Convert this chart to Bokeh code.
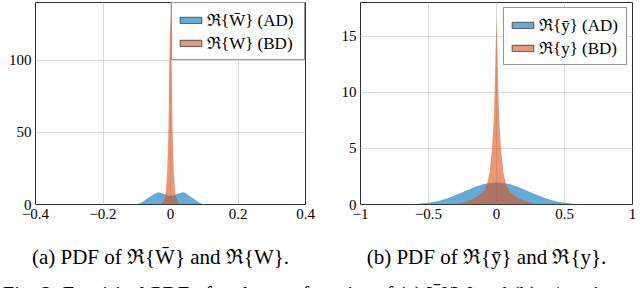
from bokeh.plotting import figure
from bokeh.layouts import column, row
from bokeh.models import Range1d, FixedTicker, Legend, LegendItem
from bokeh.core.properties import value
from bokeh.embed import file_html
from bokeh.resources import INLINE

# ---------------- data ----------------
# (a) PDF of Re{W_bar} (AD) and Re{W} (BD)
ad_w_x = [-0.11, -0.10, -0.09, -0.08, -0.07, -0.06, -0.05, -0.04, -0.035, -0.03, -0.02, -0.01, 0.0,
          0.01, 0.02, 0.03, 0.037, 0.045, 0.05, 0.06, 0.07, 0.08, 0.09, 0.10, 0.11]
ad_w_y = [0.0, 0.2, 0.8, 2.2, 4.0, 5.6, 7.0, 8.2, 8.5, 8.2, 7.2, 6.3, 6.0,
          6.3, 7.2, 8.2, 8.5, 8.0, 7.0, 5.4, 3.8, 2.0, 0.7, 0.15, 0.0]
bd_w_x = [-0.035, -0.03, -0.025, -0.02, -0.016, -0.013, -0.010, -0.008, -0.006, -0.004, -0.002, 0.0,
          0.002, 0.004, 0.006, 0.008, 0.010, 0.013, 0.016, 0.02, 0.025, 0.03, 0.035]
bd_w_y = [0.0, 0.2, 0.8, 2.5, 5.5, 11.0, 22.0, 35.0, 55.0, 90.0, 115.0, 131.0,
          115.0, 90.0, 55.0, 35.0, 22.0, 11.0, 5.5, 2.5, 0.8, 0.2, 0.0]

# (b) PDF of Re{y_bar} (AD) and Re{y} (BD)
ad_y_x = [-0.65, -0.6, -0.55, -0.5, -0.45, -0.4, -0.35, -0.3, -0.25, -0.2, -0.15, -0.1, -0.05, 0.0,
          0.05, 0.1, 0.15, 0.2, 0.25, 0.3, 0.35, 0.4, 0.45, 0.5, 0.55, 0.6, 0.65]
ad_y_y = [0.0, 0.03, 0.08, 0.15, 0.25, 0.4, 0.6, 0.85, 1.1, 1.35, 1.6, 1.8, 1.92, 1.95,
          1.92, 1.8, 1.6, 1.35, 1.1, 0.85, 0.6, 0.4, 0.25, 0.15, 0.08, 0.03, 0.0]
bd_y_x = [-0.35, -0.3, -0.25, -0.2, -0.15, -0.1, -0.08, -0.066, -0.05, -0.033, -0.02, -0.014, -0.007, 0.0,
          0.007, 0.014, 0.02, 0.033, 0.05, 0.066, 0.08, 0.1, 0.15, 0.2, 0.25, 0.3, 0.35]
bd_y_y = [0.0, 0.05, 0.15, 0.35, 0.65, 1.1, 1.5, 2.0, 2.9, 5.0, 7.5, 10.0, 13.5, 16.6,
          13.5, 10.0, 7.5, 5.0, 2.9, 2.0, 1.5, 1.1, 0.65, 0.35, 0.15, 0.05, 0.0]

# ticks
xt_a = [-0.4, -0.2, 0.0, 0.2, 0.4]
xl_a = ["\u22120.4", "\u22120.2", "0", "0.2", "0.4"]
yt_a = [0, 50, 100]
yl_a = ["0", "50", "100"]
xt_b = [-1.0, -0.5, 0.0, 0.5, 1.0]
xl_b = ["\u22121", "\u22120.5", "0", "0.5", "1"]
yt_b = [0, 5, 10, 15]
yl_b = ["0", "5", "10", "15"]

legend_a = ["\u211c{W\u0304} (AD)", "\u211c{W} (BD)"]
legend_b = ["\u211c{\u0233} (AD)", "\u211c{y} (BD)"]
caption_a = "(a) PDF of \u211c{W\u0304} and \u211c{W}."
caption_b = "(b) PDF of \u211c{\u0233} and \u211c{y}."
fig_caption = "Fig. 2: Empirical PDF of real part of entries of (a) W\u0304/W and (b) \u0233/y using"

# ---------------- style ----------------
BLUE = "#0072BD"
ORANGE = "#D95319"
ALPHA = 0.6
SERIF = "Liberation Serif"
GRID = "#dadada"
FRAME = "#303030"


def panel(width, bl, br, xr, yr, xt, xl, yt, yl, bx, by, ox, oy, labels, lmargin, lwidth):
    p = figure(width=width, height=230, x_range=Range1d(*xr), y_range=Range1d(*yr),
               output_backend="svg", toolbar_location=None,
               min_border_left=bl, min_border_right=br, min_border_top=2, min_border_bottom=26)
    p.background_fill_color = "white"
    p.border_fill_color = "white"
    p.outline_line_color = FRAME
    p.outline_line_width = 1

    p.xaxis.ticker = FixedTicker(ticks=xt)
    p.yaxis.ticker = FixedTicker(ticks=yt)
    p.xaxis.major_label_overrides = dict(zip(xt, xl))
    p.yaxis.major_label_overrides = dict(zip(yt, yl))
    for ax in (p.xaxis, p.yaxis):
        ax.axis_line_color = None
        ax.major_tick_line_color = None
        ax.minor_tick_line_color = None
        ax.major_tick_in = 0
        ax.major_tick_out = 0
        ax.major_label_text_font = SERIF
        ax.major_label_text_font_size = "15px"
        ax.major_label_text_color = "black"
    p.xaxis.major_label_standoff = 4
    p.yaxis.major_label_standoff = 4

    p.grid.grid_line_color = GRID
    p.grid.grid_line_width = 1

    p.varea(x=bx, y1=[0] * len(bx), y2=by, fill_color=BLUE, fill_alpha=ALPHA)
    p.varea(x=ox, y1=[0] * len(ox), y2=oy, fill_color=ORANGE, fill_alpha=ALPHA)

    # legend-only swatches, with their single box placed outside the visible ranges
    off = xr[1] * 10
    lb = p.quad(left=[off], right=[off * 1.1], top=[1], bottom=[0], fill_color=BLUE, fill_alpha=ALPHA,
                line_color="#505050", line_width=1)
    lo = p.quad(left=[off], right=[off * 1.1], top=[1], bottom=[0], fill_color=ORANGE, fill_alpha=ALPHA,
                line_color="#505050", line_width=1)
    leg = Legend(items=[LegendItem(label=labels[0], renderers=[lb]),
                        LegendItem(label=labels[1], renderers=[lo])])
    leg.location = "top_right"
    leg.margin = lmargin
    leg.padding = 5
    leg.spacing = 0
    leg.label_height = 20
    leg.label_width = lwidth
    leg.glyph_height = 8
    leg.glyph_width = 27
    leg.label_standoff = 3
    leg.label_text_font = SERIF
    leg.label_text_font_size = "17px"
    leg.label_text_color = "black"
    leg.border_line_color = FRAME
    leg.border_line_width = 1
    leg.background_fill_color = "white"
    leg.background_fill_alpha = 1.0
    p.add_layout(leg)
    return p


p1 = panel(322, 35, 17, (-0.4, 0.4), (0, 140), xt_a, xl_a, yt_a, yl_a,
           ad_w_x, ad_w_y, bd_w_x, bd_w_y, legend_a, 0, 92)
p2 = panel(318, 38, 8, (-1, 1), (0, 18), xt_b, xl_b, yt_b, yl_b,
           ad_y_x, ad_y_y, bd_y_x, bd_y_y, legend_b, 5, 82)

# caption strip (pixel coordinates)
p3 = figure(width=640, height=58, x_range=Range1d(0, 640), y_range=Range1d(0, 58),
            output_backend="svg", toolbar_location=None,
            min_border_left=0, min_border_right=0, min_border_top=0, min_border_bottom=0)
p3.axis.visible = False
p3.grid.visible = False
p3.outline_line_color = None
p3.text(x=[160, 486], y=[32, 32], text=[caption_a, caption_b],
        text_font=value(SERIF), text_font_size=value("21px"), text_align="center",
        text_baseline="alphabetic", text_color="black")
# the figure caption below is cut by the lower edge, as in the reference
p3.text(x=[2], y=[6.5], text=[fig_caption],
        text_font=value(SERIF), text_font_size=value("21px"), text_align="left",
        text_baseline="top", text_color="black")

layout = column(row(p1, p2), p3)
open("out.html", "w").write(file_html(layout, INLINE))
